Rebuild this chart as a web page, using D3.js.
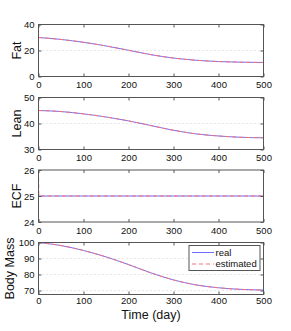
<!DOCTYPE html>
<html><head><meta charset="utf-8">
<script src="https://cdn.jsdelivr.net/npm/d3@7"></script>
<style>body{margin:0;background:#fff}svg{display:block}</style>
</head><body><svg id="c" width="291" height="331"></svg>
<script>
const days = [0, 50, 100, 150, 200, 250, 300, 350, 400, 450, 500];
const fatReal = [30, 28.5, 26.3, 23.5, 20.2, 16.8, 14.2, 12.5, 11.5, 11.0, 10.8];
const fatEst  = [30, 28.5, 26.3, 23.5, 20.2, 16.8, 14.2, 12.5, 11.5, 11.0, 10.8];
const leanReal = [45, 44.6, 43.7, 42.5, 41, 39.2, 37.4, 36, 35.2, 34.7, 34.5];
const leanEst  = [45, 44.6, 43.7, 42.5, 41, 39.2, 37.4, 36, 35.2, 34.7, 34.5];
const ecfDays = [0, 1, 100, 200, 300, 400, 500];
const ecfReal = [25, 25, 25, 25, 25, 25, 25];
const ecfEst  = [26, 25, 25, 25, 25, 25, 25];
const massReal = [100, 98.1, 95, 91, 86.2, 81, 76.6, 73.5, 71.7, 70.7, 70.3];
const massEst  = [100, 98.1, 95, 91, 86.2, 81, 76.6, 73.5, 71.7, 70.7, 70.3];
const xTicks = [0, 100, 200, 300, 400, 500];
const panels = [
  {label: "Fat", domain: [0, 40], ticks: [0, 20, 40], x: days, real: fatReal, est: fatEst},
  {label: "Lean", domain: [30, 50], ticks: [30, 40, 50], x: days, real: leanReal, est: leanEst},
  {label: "ECF", domain: [24, 26], ticks: [24, 25, 26], x: ecfDays, real: ecfReal, est: ecfEst},
  {label: "Body Mass", domain: [67.5, 100], ticks: [70, 80, 90, 100], x: days, real: massReal, est: massEst}
];
const legendLabels = ["real", "estimated"];

const svg = d3.select("#c");
const L = 38.5, R = 263.5, H = 52;
const tops = [24.5, 97.5, 170, 242.5];
const x = d3.scaleLinear().domain([0, 500]).range([L, R]);
const font = "Liberation Sans, Arial, Helvetica, sans-serif";
const blue = "#7070ff", red = "#ff7070";
const fmt = d3.format("d");

panels.forEach((p, i) => {
  const top = tops[i], bot = top + H;
  const y = d3.scaleLinear().domain(p.domain).range([bot, top]);
  const g = svg.append("g");
  g.selectAll(".grid").data(p.ticks.filter(t => y(t) > top + 1 && y(t) < bot - 1)).join("line")
    .attr("x1", L).attr("x2", R).attr("y1", d => y(d)).attr("y2", d => y(d))
    .attr("stroke", "#c4c4c4").attr("stroke-width", 0.8).attr("stroke-dasharray", "1,3");
  const line = d3.line().x((d, k) => x(p.x[k])).y(d => y(d)).curve(d3.curveMonotoneX);
  g.append("path").attr("d", line(p.real)).attr("fill", "none").attr("stroke", blue).attr("stroke-width", 1);
  g.append("path").attr("d", line(p.est)).attr("fill", "none").attr("stroke", red).attr("stroke-width", 1).attr("stroke-dasharray", "4,3");
  g.append("rect").attr("x", L).attr("y", top).attr("width", R - L).attr("height", H)
    .attr("fill", "none").attr("stroke", "#555").attr("stroke-width", 1);
  const ax = g.append("g").attr("transform", `translate(0,${bot})`)
    .call(d3.axisBottom(x).tickValues(xTicks).tickSizeInner(-3).tickSizeOuter(0).tickPadding(i === 3 ? 3 : 5));
  ax.select(".domain").remove();
  ax.selectAll("line").attr("stroke", "#555");
  ax.selectAll("text").attr("font-family", font).attr("font-size", 9.5).attr("fill", "#111");
  const axT = g.append("g").attr("transform", `translate(0,${top})`)
    .call(d3.axisTop(x).tickValues(xTicks).tickSizeInner(-3).tickSizeOuter(0).tickFormat(""));
  axT.select(".domain").remove();
  axT.selectAll("line").attr("stroke", "#555");
  const ay = g.append("g").attr("transform", `translate(${L},0)`)
    .call(d3.axisLeft(y).tickValues(p.ticks).tickFormat(fmt).tickSizeInner(-3).tickSizeOuter(0).tickPadding(4));
  ay.select(".domain").remove();
  ay.selectAll("line").attr("stroke", "#555");
  ay.selectAll("text").attr("font-family", font).attr("font-size", 9.5).attr("fill", "#111");
  const ayR = g.append("g").attr("transform", `translate(${R},0)`)
    .call(d3.axisRight(y).tickValues(p.ticks).tickSizeInner(-3).tickSizeOuter(0).tickFormat(""));
  ayR.select(".domain").remove();
  ayR.selectAll("line").attr("stroke", "#555");
  g.append("text").attr("transform", `translate(${i === 3 ? 13.5 : 20.5},${top + H / 2}) rotate(-90)`)
    .attr("text-anchor", "middle").attr("font-family", font).attr("font-size", 12.5).attr("fill", "#111").text(p.label);
});

svg.append("text").attr("x", 151).attr("y", 319).attr("text-anchor", "middle")
  .attr("font-family", font).attr("font-size", 12.5).attr("fill", "#111").text("Time (day)");

const lg = svg.append("g");
lg.append("rect").attr("x", 189).attr("y", 245.5).attr("width", 71).attr("height", 25)
  .attr("fill", "#fff").attr("stroke", "#555").attr("stroke-width", 1);
legendLabels.forEach((t, k) => {
  const yy = 252.5 + k * 11.5;
  lg.append("line").attr("x1", 192).attr("x2", 214).attr("y1", yy).attr("y2", yy)
    .attr("stroke", k === 0 ? blue : red).attr("stroke-width", 1).attr("stroke-dasharray", k === 0 ? null : "4,3");
  lg.append("text").attr("x", 215.5).attr("y", yy + 3.3).attr("font-family", font).attr("font-size", 9.5).attr("fill", "#111").text(t);
});
</script></body></html>
